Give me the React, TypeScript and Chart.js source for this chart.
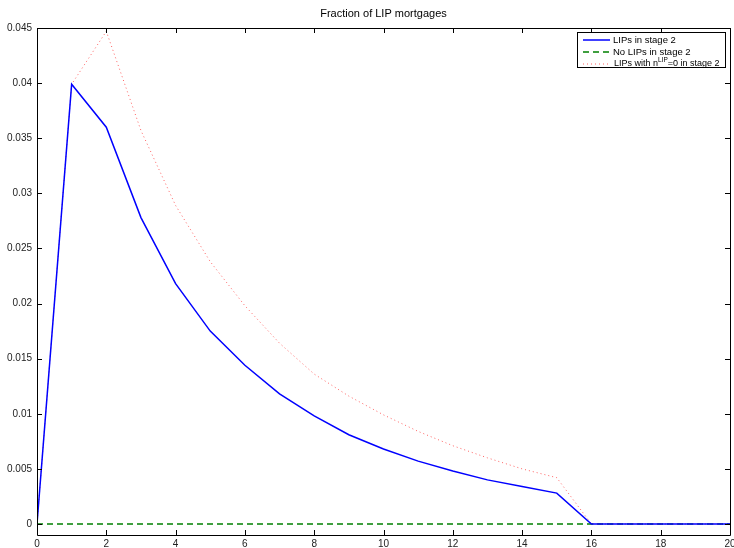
import React, { useEffect, useRef } from "react";
import { Chart, registerables } from "chart.js";

Chart.register(...registerables);

const title = "Fraction of LIP mortgages";
const xValues = [0, 1, 2, 3, 4, 5, 6, 7, 8, 9, 10, 11, 12, 13, 14, 15, 16, 17, 18, 19, 20];
const lipValues = [0, 0.0399, 0.036, 0.0278, 0.0218, 0.0175, 0.0144, 0.0118, 0.0098, 0.0081, 0.0068, 0.0057, 0.0048, 0.004, 0.0034, 0.0028, 0, 0, 0, 0, 0];
const noLipValues = [0, 0, 0, 0, 0, 0, 0, 0, 0, 0, 0, 0, 0, 0, 0, 0, 0, 0, 0, 0, 0];
const lipN0Values = [0, 0.0399, 0.0447, 0.0357, 0.0289, 0.0238, 0.0198, 0.0164, 0.0136, 0.0116, 0.0099, 0.0084, 0.0071, 0.006, 0.005, 0.0042, 0, 0, 0, 0, 0];
const xTicks = [0, 2, 4, 6, 8, 10, 12, 14, 16, 18, 20];
const xTickLabels = ["0", "2", "4", "6", "8", "10", "12", "14", "16", "18", "20"];
const yTicks = [0, 0.005, 0.01, 0.015, 0.02, 0.025, 0.03, 0.035, 0.04, 0.045];
const yTickLabels = ["0", "0.005", "0.01", "0.015", "0.02", "0.025", "0.03", "0.035", "0.04", "0.045"];
const legendLabels = ["LIPs in stage 2", "No LIPs in stage 2", "LIPs with n", "LIP", "=0 in stage 2"];

const FONT = "Liberation Sans, Arial, Helvetica, sans-serif";
const BLUE = "#0000ff";
const GREEN = "#008000";
const RED = "#ff6060";

const toPoints = (ys: number[]) => xValues.map((x, i) => ({ x, y: ys[i] }));

const framePlugin = {
  id: "matlabFrame",
  afterDatasetsDraw(chart: any) {
    const ctx = chart.ctx as CanvasRenderingContext2D;
    const { left, right, top, bottom } = chart.chartArea;
    const xs = chart.scales.x;
    const ys = chart.scales.y;
    ctx.save();
    ctx.strokeStyle = "#000";
    ctx.lineWidth = 1;
    ctx.setLineDash([]);
    ctx.beginPath();
    ctx.rect(Math.round(left) + 0.5, Math.round(top) + 0.5, Math.round(right - left), Math.round(bottom - top));
    ctx.stroke();
    const tl = 5;
    ctx.beginPath();
    xTicks.forEach((v) => {
      const px = Math.round(xs.getPixelForValue(v)) + 0.5;
      ctx.moveTo(px, bottom);
      ctx.lineTo(px, bottom - tl);
      ctx.moveTo(px, top);
      ctx.lineTo(px, top + tl);
    });
    yTicks.forEach((v) => {
      const py = Math.round(ys.getPixelForValue(v)) + 0.5;
      ctx.moveTo(left, py);
      ctx.lineTo(left + tl, py);
      ctx.moveTo(right, py);
      ctx.lineTo(right - tl, py);
    });
    ctx.stroke();

    // title
    ctx.fillStyle = "#000";
    ctx.font = `11px ${FONT}`;
    ctx.textAlign = "center";
    ctx.textBaseline = "middle";
    ctx.fillText(title, (left + right) / 2, 14);

    // legend
    const bx = 577.5, by = 32.5, bw = 148, bh = 35;
    ctx.fillStyle = "#fff";
    ctx.fillRect(bx, by, bw, bh);
    ctx.strokeStyle = "#000";
    ctx.lineWidth = 1;
    ctx.strokeRect(bx, by, bw, bh);
    const rows = [40, 52, 64];
    const styles = [
      { color: BLUE, dash: [] as number[], width: 1.5 },
      { color: GREEN, dash: [6, 4], width: 1.5 },
      { color: RED, dash: [1, 3], width: 1 },
    ];
    styles.forEach((s, i) => {
      ctx.beginPath();
      ctx.strokeStyle = s.color;
      ctx.lineWidth = s.width;
      ctx.setLineDash(s.dash);
      ctx.moveTo(583, rows[i]);
      ctx.lineTo(610, rows[i]);
      ctx.stroke();
    });
    ctx.setLineDash([]);
    ctx.fillStyle = "#000";
    ctx.textAlign = "left";
    ctx.textBaseline = "middle";
    ctx.font = `9.5px ${FONT}`;
    ctx.fillText(legendLabels[0], 613, rows[0]);
    ctx.fillText(legendLabels[1], 613, rows[1]);
    let tx = 614;
    ctx.font = `9px ${FONT}`;
    ctx.fillText(legendLabels[2], tx, rows[2]);
    tx += ctx.measureText(legendLabels[2]).width;
    ctx.font = `6.5px ${FONT}`;
    ctx.fillText(legendLabels[3], tx, rows[2] - 4);
    tx += ctx.measureText(legendLabels[3]).width;
    ctx.font = `9px ${FONT}`;
    ctx.fillText(legendLabels[4], tx, rows[2]);
    ctx.restore();
  },
};

export default function App() {
  const ref = useRef<HTMLCanvasElement | null>(null);
  useEffect(() => {
    document.body.style.margin = "0";
    const canvas = ref.current!;
    const chart = new Chart(canvas, {
      type: "line",
      data: {
        datasets: [
          {
            label: legendLabels[0],
            data: toPoints(lipValues),
            borderColor: BLUE,
            borderWidth: 1.5,
            pointRadius: 0,
            tension: 0,
            order: 0,
          },
          {
            label: legendLabels[1],
            data: toPoints(noLipValues),
            borderColor: GREEN,
            borderWidth: 1.5,
            borderDash: [6, 4],
            pointRadius: 0,
            tension: 0,
            order: 2,
          },
          {
            label: legendLabels[2] + legendLabels[3] + legendLabels[4],
            data: toPoints(lipN0Values),
            borderColor: RED,
            borderWidth: 1,
            borderDash: [1, 3],
            pointRadius: 0,
            tension: 0,
            order: 1,
          },
        ],
      },
      options: {
        animation: false,
        responsive: false,
        devicePixelRatio: 1,
        layout: { padding: { top: 28, right: 4, left: 0, bottom: 0 }, autoPadding: false } as any,
        plugins: { legend: { display: false }, title: { display: false }, tooltip: { enabled: false } },
        scales: {
          x: {
            type: "linear",
            min: 0,
            max: 20,
            grid: { display: false, drawTicks: false },
            border: { display: false },
            afterBuildTicks: (s: any) => {
              s.ticks = xTicks.map((v) => ({ value: v }));
            },
            afterFit: (s: any) => {
              s.height = 13;
              s.paddingLeft = 0;
              s.paddingRight = 0;
            },
            ticks: {
              autoSkip: false,
              maxRotation: 0,
              padding: 3,
              color: "#222",
              font: { family: FONT, size: 10 },
              callback: (v: any) => {
                const i = xTicks.indexOf(Number(v));
                return i >= 0 ? xTickLabels[i] : "";
              },
            },
          },
          y: {
            type: "linear",
            min: -0.001,
            max: 0.045,
            grid: { display: false, drawTicks: false },
            border: { display: false },
            afterBuildTicks: (s: any) => {
              s.ticks = yTicks.map((v) => ({ value: v }));
            },
            afterFit: (s: any) => {
              s.width = 37;
              s.paddingTop = 0;
              s.paddingBottom = 0;
            },
            ticks: {
              autoSkip: false,
              padding: 5,
              color: "#222",
              font: { family: FONT, size: 10 },
              callback: (v: any) => {
                const i = yTicks.findIndex((t) => Math.abs(t - Number(v)) < 1e-9);
                return i >= 0 ? yTickLabels[i] : "";
              },
            },
          },
        },
      },
      plugins: [framePlugin],
    });
    return () => chart.destroy();
  }, []);
  return (
    <div style={{ width: 734, height: 548, background: "#fff" }}>
      <canvas ref={ref} width={734} height={548} style={{ display: "block" }} />
    </div>
  );
}
